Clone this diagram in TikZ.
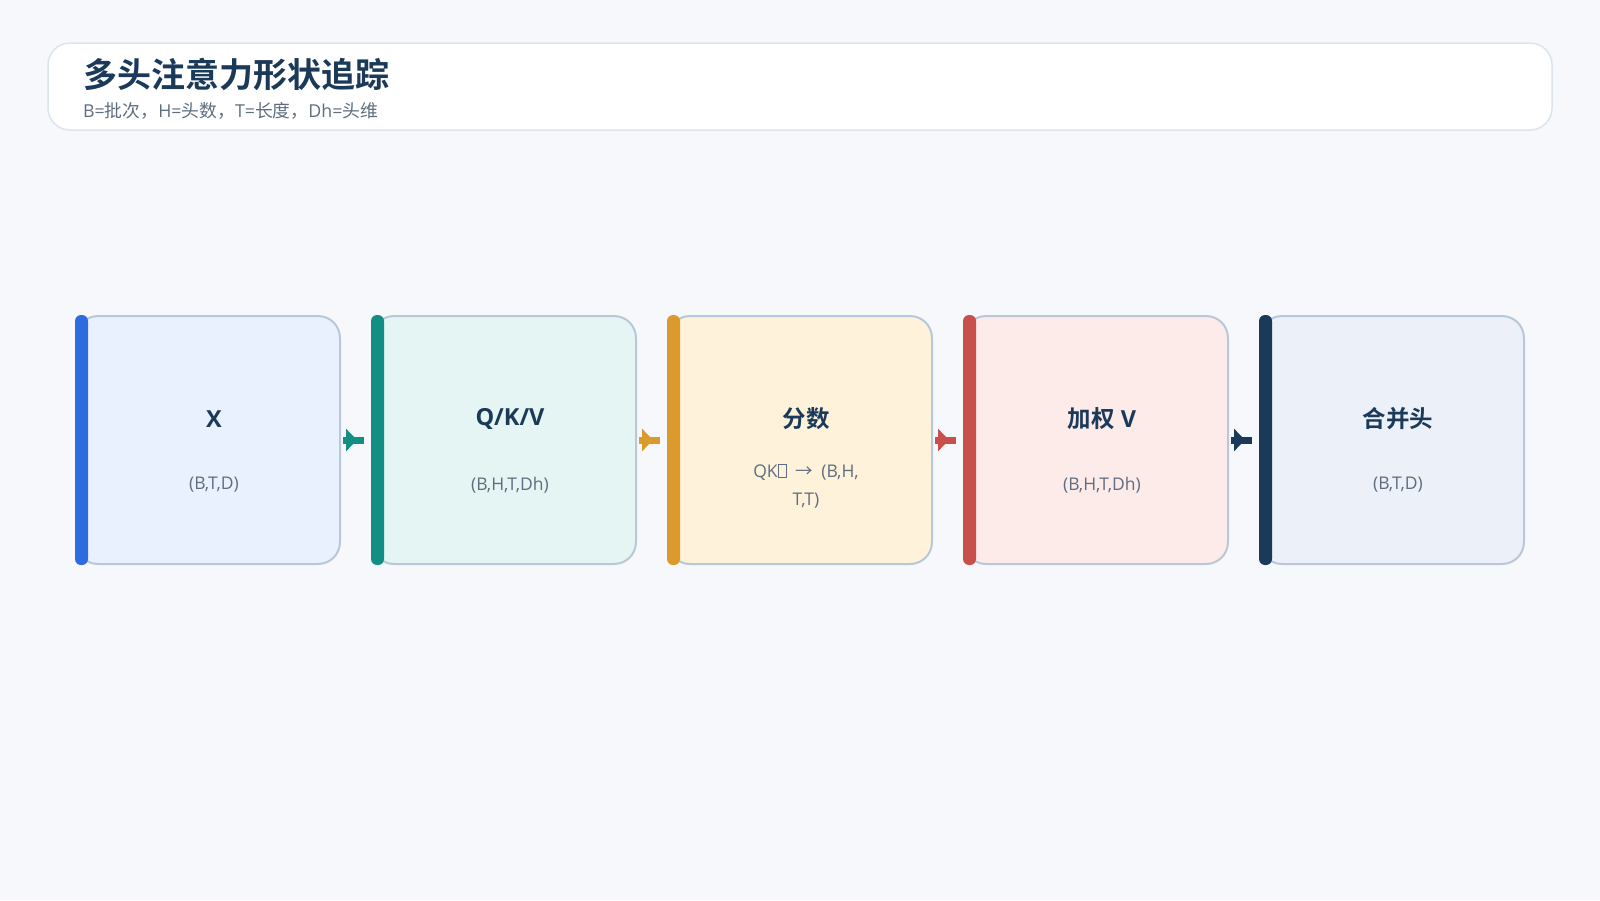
\documentclass[tikz,border=0pt]{standalone}
\usepackage{fontspec}
\setmainfont{Open Sans}
\newfontfamily\cjk{Noto Sans CJK SC}[BoldFont={* Bold}]
\usetikzlibrary{arrows.meta,decorations.markings}

\definecolor{bg}{HTML}{F6F8FC}
\definecolor{ink}{HTML}{1B3A5A}
\definecolor{muted}{HTML}{5E6E80}
\definecolor{frame}{HTML}{DCE4EE}
\definecolor{boxline}{HTML}{B8C8D8}
\definecolor{cX}{HTML}{2E6BDE}
\definecolor{fX}{HTML}{EAF1FE}
\definecolor{cQ}{HTML}{128E82}
\definecolor{fQ}{HTML}{E4F5F3}
\definecolor{cS}{HTML}{DA9A2C}
\definecolor{fS}{HTML}{FEF3DA}
\definecolor{cW}{HTML}{C8504A}
\definecolor{fW}{HTML}{FDEBEA}
\definecolor{cC}{HTML}{1B3A5A}
\definecolor{fC}{HTML}{ECF0F8}

\def\bw{264}
\def\bh{248}
\def\dist{296}
\def\xnull{208}
\def\ynull{440}
\def\tofu{{\fboxsep=0pt\fboxrule=0.7pt\fbox{\rule{0pt}{0.72em}\hspace{0.42em}}}}

\tikzset{
 box/.style={draw=boxline, line width=2pt, rounded corners=22pt,
   minimum width=\bw pt, minimum height=\bh pt, inner sep=0pt},
 head/.style={text=ink, inner sep=0pt, font=\fontsize{23.5}{28}\selectfont\bfseries},
 sub/.style={text=muted, inner sep=0pt, align=center, font=\fontsize{17.5}{28}\selectfont},
 flow/.style={line width=7pt, #1, postaction={decorate},
   decoration={markings, mark=at position 14pt with {\arrow[#1]{Triangle[length=11pt,width=22pt]}}}},
}

\begin{document}
\begin{tikzpicture}[x=1pt,y=-1pt]
 \fill[bg] (0,0) rectangle (1600,900);
 \useasboundingbox (0,0) rectangle (1600,900);

 \node (Top) [draw=frame, fill=white, line width=1.5pt, rounded corners=22pt,
   minimum width=1504pt, minimum height=87pt] at (800,86.5) {};
 \node (Ttl) [anchor=west, inner sep=0pt, text=ink, font=\fontsize{34}{40}\selectfont\bfseries\cjk]
   at (83,74) {多头注意力形状追踪};
 \node (Sbt) [anchor=west, inner sep=0pt, text=muted, font=\fontsize{17.8}{20}\selectfont]
   at (83,111) {B={\cjk 批次，}H={\cjk 头数，}T={\cjk 长度，}Dh={\cjk 头维}};

 \node (X)   [box, fill=fX] at (\xnull,\ynull) {};
 \node (QKV) [box, fill=fQ] at (\xnull+\dist,\ynull) {};
 \node (S)   [box, fill=fS] at (\xnull+2*\dist,\ynull) {};
 \node (WV)  [box, fill=fW] at (\xnull+3*\dist,\ynull) {};
 \node (C)   [box, fill=fC] at (\xnull+4*\dist,\ynull) {};

 % farbige Leiste links
 \foreach \n/\c in {X/cX, QKV/cQ, S/cS, WV/cW, C/cC} {
   \fill[\c, rounded corners=6pt] (\n.north west) rectangle ([xshift=13pt]\n.south west);
 }

 \node (Xh)   [head] at ([xshift=6pt,yshift=21pt]X.center)   {X};
 \node (QKVh) [head] at ([xshift=6pt,yshift=21pt]QKV.center) {Q/K/V};
 \node (Sh)   [head] at ([xshift=6pt,yshift=21pt]S.center)   {\cjk 分数};
 \node (WVh)  [head] at ([xshift=6pt,yshift=21pt]WV.center)  {{\cjk 加权} V};
 \node (Ch)   [head] at ([xshift=6pt,yshift=21pt]C.center)   {\cjk 合并头};

 \node (Xs)   [sub] at ([xshift=6pt,yshift=-45pt]X.center)   {(B,T,D)};
 \node (QKVs) [sub] at ([xshift=6pt,yshift=-45pt]QKV.center) {(B,H,T,Dh)};
 \node (Ss)   [sub] at ([xshift=6pt,yshift=-46pt]S.center)   {QK\tofu\enspace{\cjk →}\enspace(B,H,\\T,T)};
 \node (WVs)  [sub] at ([xshift=6pt,yshift=-45pt]WV.center)  {(B,H,T,Dh)};
 \node (Cs)   [sub] at ([xshift=6pt,yshift=-45pt]C.center)   {(B,T,D)};

 \draw[flow=cQ] ([xshift=2pt]X.east)   -- ([xshift=-7pt]QKV.west);
 \draw[flow=cS] ([xshift=2pt]QKV.east) -- ([xshift=-7pt]S.west);
 \draw[flow=cW] ([xshift=2pt]S.east)   -- ([xshift=-7pt]WV.west);
 \draw[flow=cC] ([xshift=2pt]WV.east)  -- ([xshift=-7pt]C.west);
\end{tikzpicture}
\end{document}
